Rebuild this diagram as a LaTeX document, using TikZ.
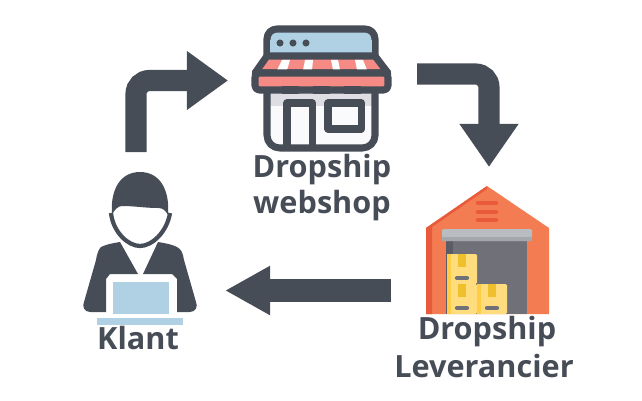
\documentclass[tikz,border=0pt]{standalone}
\usepackage{fontspec}
\setmainfont{Open Sans}
\usepackage{xcolor}
\definecolor{slate}{HTML}{474D57}
\definecolor{skyblue}{HTML}{B0D0E4}
\definecolor{awning}{HTML}{F68A85}
\definecolor{wall}{HTML}{FAFAFD}
\definecolor{wallshade}{HTML}{DEDDE3}
\definecolor{brick}{HTML}{F47C52}
\definecolor{brickdark}{HTML}{E85A3A}
\definecolor{shutter}{HTML}{B9BDC1}
\definecolor{shutterdark}{HTML}{A4A8AC}
\definecolor{doorway}{HTML}{6F7078}
\definecolor{doorwaydark}{HTML}{5B5C66}
\definecolor{carton}{HTML}{FFDC7D}
\definecolor{cartondark}{HTML}{FFCD45}
\definecolor{tape}{HTML}{F0BF2C}
\usetikzlibrary{arrows.meta,positioning,calc}
\tikzset{
    bigarrow/.style={draw=slate, line width=15pt},
    shopline/.style={draw=slate, line width=5pt, line join=round},
    pill/.style={line cap=round, line width=5pt, draw=slate},
    vent/.style={line cap=round, line width=3pt, draw=brickdark},
    caption/.style={text=slate, font=\fontsize{21.8}{21.8}\selectfont\bfseries, inner sep=0pt, anchor=base}
}
\newcommand{\cartonbox}[2]{%
    \fill[carton, rounded corners=1pt] (#1,#2) rectangle ++(30,30);
    \fill[cartondark] (#1,#2) rectangle ++(4,30);
    \fill[tape] (#1+11,#2) rectangle ++(8,13);
    \draw[line width=3pt, line cap=round, doorway] (#1+10,#2+24) -- ++(10,0);
}
\begin{document}
\begin{tikzpicture}[x=0.025cm, y=-0.025cm]
    \useasboundingbox (0,0) rectangle (642,400);

    % Webshop: body
    \fill[wall] (267,90) rectangle (375,148);
    \fill[wallshade] (267,90) rectangle (375,106);
    \draw[shopline, rounded corners=9pt] (267,88) -- (267,148) -- (375,148) -- (375,88);
    % Webshop: top bar
    \draw[shopline, fill=skyblue, rounded corners=7pt] (267,56) -- (267,29) -- (375,29) -- (375,56);
    \fill[skyblue] (270,40) rectangle (372,54);
    \foreach \dotx in {280,293,306}
        \fill[slate] (\dotx,43) circle (2.5pt);
    % Webshop: awning
    \draw[shopline, fill=awning] (267,56) -- (375,56) -- (388,73) -- (255,73) -- cycle;
    \fill[white] (282,60) -- (290,60) -- (287,70) -- (277,70) -- cycle;
    \fill[white] (305,60) -- (313,60) -- (312,70) -- (303,70) -- cycle;
    \fill[white] (331,60) -- (338,60) -- (340,70) -- (333,70) -- cycle;
    \fill[white] (355,60) -- (363,60) -- (367,70) -- (357,70) -- cycle;
    \draw[shopline, fill=awning, rounded corners=3pt] (255,73) rectangle (388,90);
    \foreach \pillx in {283,314,345}
        \draw[pill] (\pillx,90) -- ++(15,0);
    % Webshop: door and window
    \draw[shopline] (287,148) -- (287,103) -- (312.5,103) -- (312.5,148);
    \draw[shopline] (328,103) rectangle (361.5,129);

    % Warehouse
    \fill[brick] (426,228) -- (487,186) -- (549,228) -- (549,314) -- (426,314) -- cycle;
    \fill[brickdark] (426,228) -- (487,186) -- (487,189) -- (432,227) -- (432,314) -- (426,314) -- cycle;
    \foreach \venty in {203,212,220}
        \draw[vent] (478,\venty) -- (496,\venty);
    \fill[doorway] (446,241) rectangle (527,314);
    \fill[doorwaydark] (446,241) rectangle (453,314);
    \fill[shutter, rounded corners=1pt] (442,229) rectangle (532,241);
    \fill[shutterdark] (442,237) rectangle (532,241);
    \cartonbox{447}{254}
    \cartonbox{447}{284}
    \cartonbox{477}{284}

    % Customer
    \fill[slate] (101,247) .. controls (107,244) and (114,243) .. (120,242) -- (138,274) -- (110,274) -- (106,279) -- (106,312) -- (90,312) .. controls (84,312) and (82,306) .. (84,302) -- (96,260) .. controls (97,253) and (99,249) .. (101,247) -- cycle;
    \fill[slate] (177,247) .. controls (171,244) and (164,243) .. (158,242) -- (143,274) -- (172,274) -- (177,279) -- (177,312) -- (190,312) .. controls (196,312) and (198,306) .. (196,302) -- (184,260) .. controls (183,253) and (181,249) .. (177,247) -- cycle;
    \draw[slate, line width=3pt] (111,213) .. controls (113,232) and (128,246) .. (140,246) .. controls (152,246) and (167,232) .. (170,213);
    \fill[slate] (112,215) .. controls (110,190) and (120,172) .. (140,172) .. controls (160,172) and (170,190) .. (168,215)
        .. controls (165,210) and (163,208) .. (158,208) .. controls (145,208) and (135,206) .. (122,206) .. controls (118,206) and (114,210) .. (112,215) -- cycle;
    \fill[skyblue] (113,282) rectangle (169,314);
    \fill[skyblue] (97,318) rectangle (183,325);

    % Arrows
    \coordinate (klantout) at (136,152);
    \coordinate (klantbend) at (136,80.5);
    \coordinate (shopin) at (228,80.5);
    \coordinate (shopout) at (417,74);
    \coordinate (shopbend) at (489,74);
    \coordinate (depotin) at (489,167);
    \coordinate (depotout) at (391,290.5);
    \coordinate (klantin) at (225,290.5);
    \draw[bigarrow, rounded corners=9.5pt, -{Triangle[length=1.025cm, width=1.4cm]}] (klantout) -- (klantbend) -- (shopin);
    \draw[bigarrow, rounded corners=9.5pt, -{Triangle[length=1.075cm, width=1.4cm]}] (shopout) -- (shopbend) -- (depotin);
    \draw[bigarrow, line width=16pt, -{Triangle[length=1.125cm, width=1.15cm]}] (depotout) -- (klantin);

    % Labels
    \node[caption] (shopname) at (322,177) {Dropship};
    \node[caption] (shopnamesub) at (322,213) {webshop};
    \node[caption] (depotname) at (487,339) {Dropship};
    \node[caption] (depotnamesub) at (484,377) {Leverancier};
    \node[caption] (klantname) at (138,349) {Klant};
\end{tikzpicture}
\end{document}
